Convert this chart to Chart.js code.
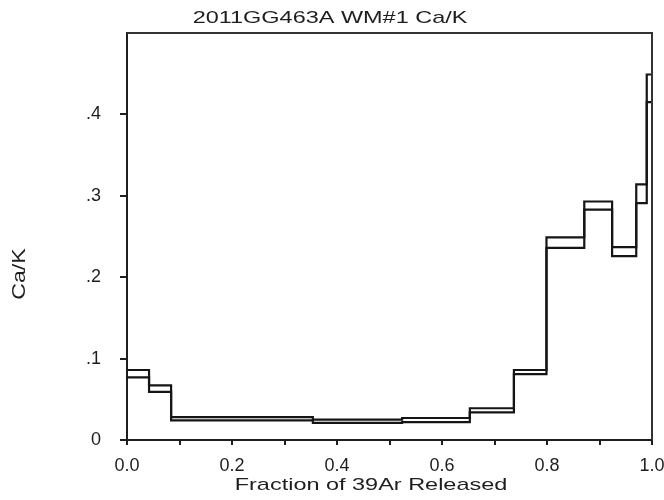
<!DOCTYPE html>
<html>
<head>
<meta charset="utf-8">
<script src="https://cdn.jsdelivr.net/npm/chart.js@4.4.1/dist/chart.umd.min.js"></script>
<style>
    html, body { margin: 0; padding: 0; background: #fff; }
    #wrap { width: 664px; height: 500px; }
</style>
</head>
<body>
<div id="wrap"><canvas id="graficoCaK" width="664" height="500"></canvas></div>
<script>
// ================== DATOS ==================

// limites de cada escalon (fraccion acumulada de 39Ar)
const fracEdges = [0, 0.042, 0.084, 0.354, 0.524, 0.653, 0.737, 0.799, 0.871, 0.924, 0.970, 0.990, 1.0];
// Ca/K, borde superior e inferior de cada escalon
const caKUpper = [0.086, 0.067, 0.028, 0.025, 0.027, 0.039, 0.086, 0.249, 0.293, 0.237, 0.314, 0.449];
const caKLower = [0.077, 0.059, 0.024, 0.021, 0.022, 0.034, 0.081, 0.236, 0.283, 0.226, 0.291, 0.415];

const xTickLabels = ["0.0", "", "0.2", "", "0.4", "", "0.6", "", "0.8", "", "1.0"];
const yTickLabels = ["0", ".1", ".2", ".3", ".4", ""];

const chartTitle = "2011GG463A WM#1 Ca/K";
const xTitle = "Fraction of 39Ar Released";
const yTitle = "Ca/K";

const INK = "#1e1e1e";
const FONT = "'Liberation Sans', Arial, sans-serif";

function puntosEscalon(valores) {
    return fracEdges.map((x, i) => ({ x: x, y: valores[Math.min(i, valores.length - 1)] }));
}

// texto ensanchado (la fuente del original es mas ancha que Arial)
function textoAncho(ctx, texto, x, y, size, sx, rot) {
    ctx.save();
    ctx.translate(x, y);
    if (rot) ctx.rotate(rot);
    ctx.scale(sx, 1);
    ctx.font = size + "px " + FONT;
    ctx.fillStyle = INK;
    ctx.textAlign = "center";
    ctx.textBaseline = "middle";
    ctx.fillText(texto, 0, 0);
    ctx.restore();
}

const marcoYTitulos = {
    id: "marcoYTitulos",
    afterDraw(chart) {
        const { ctx, chartArea } = chart;
        ctx.save();
        ctx.strokeStyle = "#333";
        ctx.lineWidth = 2;
        ctx.beginPath();
        ctx.moveTo(chartArea.left, chartArea.top);
        ctx.lineTo(chartArea.right, chartArea.top);
        ctx.lineTo(chartArea.right, chartArea.bottom);
        ctx.stroke();
        ctx.restore();

        textoAncho(ctx, chartTitle, 330, 18, 17, 1.38);
        textoAncho(ctx, xTitle, 371, 485, 17, 1.38);
        textoAncho(ctx, yTitle, 20, 274, 19, 1.22, -Math.PI / 2);
    }
};

new Chart(document.getElementById("graficoCaK"), {
    type: "line",
    data: {
        datasets: [
            {
                label: "Ca/K sup",
                data: puntosEscalon(caKUpper),
                borderColor: "#151515",
                borderWidth: 2.2,
                stepped: true,
                pointRadius: 0,
                fill: false
            },
            {
                label: "Ca/K inf",
                data: puntosEscalon(caKLower),
                borderColor: "#151515",
                borderWidth: 2.2,
                stepped: true,
                pointRadius: 0,
                fill: false
            }
        ]
    },
    options: {
        responsive: false,
        animation: false,
        layout: { padding: { top: 33, right: 12, left: 0, bottom: 0 } },
        plugins: {
            legend: { display: false },
            tooltip: { enabled: false },
            title: { display: false }
        },
        scales: {
            x: {
                type: "linear",
                min: 0,
                max: 1,
                afterFit: s => {
                    s.height = 60;
                    s.paddingLeft = 0;
                    s.paddingRight = 0;
                },
                border: { color: INK, width: 2 },
                grid: { drawOnChartArea: false, tickLength: 5, tickColor: INK, lineWidth: 2 },
                ticks: {
                    stepSize: 0.1,
                    autoSkip: false,
                    maxRotation: 0,
                    padding: 10,
                    color: INK,
                    font: { family: FONT, size: 18 },
                    callback: (v, i) => xTickLabels[i] ?? ""
                }
            },
            y: {
                type: "linear",
                min: 0,
                max: 0.5,
                afterFit: s => {
                    s.width = 127;
                    s.paddingTop = 0;
                    s.paddingBottom = 0;
                },
                border: { color: INK, width: 2 },
                grid: {
                    drawOnChartArea: false,
                    tickLength: 7,
                    lineWidth: 2,
                    tickColor: c => (c.tick && c.tick.value >= 0.5 ? "rgba(0,0,0,0)" : INK)
                },
                ticks: {
                    stepSize: 0.1,
                    padding: 19,
                    color: INK,
                    font: { family: FONT, size: 18 },
                    callback: (v, i) => yTickLabels[i] ?? ""
                }
            }
        }
    },
    plugins: [marcoYTitulos]
});
</script>
</body>
</html>
